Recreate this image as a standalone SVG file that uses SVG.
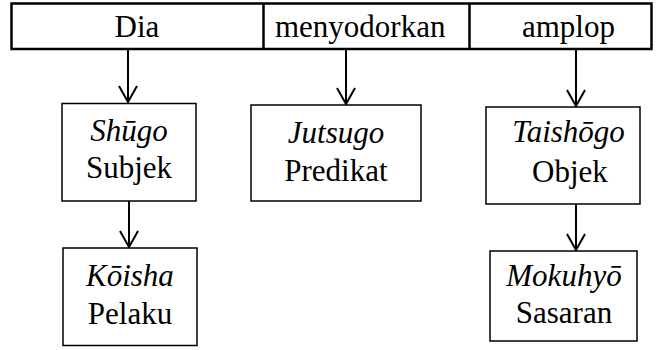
<svg xmlns="http://www.w3.org/2000/svg" width="660" height="350" viewBox="0 0 660 350">
  <rect width="660" height="350" fill="#fff"/>
  <g fill="#fff" stroke="#000" stroke-width="2.5">
    <rect x="11.5" y="3.5" width="640" height="45.5"/>
    <line x1="263.5" y1="3.5" x2="263.5" y2="49"/>
    <line x1="469.5" y1="3.5" x2="469.5" y2="49"/>
  </g>
  <text x="114.6" y="37" font-family="Liberation Serif" font-size="31">Dia</text>
  <text x="275" y="37" font-family="Liberation Serif" font-size="31">menyodorkan</text>
  <text x="522" y="37" font-family="Liberation Serif" font-size="31">amplop</text>
  <g fill="none" stroke="#000" stroke-width="2">
    <line x1="128" y1="49" x2="128" y2="102"/>
    <polyline points="119,86 128,102 137,86"/>
    <line x1="346" y1="49" x2="346" y2="104"/>
    <polyline points="337,88 346,104 355,88"/>
    <line x1="576" y1="49" x2="576" y2="106"/>
    <polyline points="567,90 576,106 585,90"/>
    <line x1="129" y1="201" x2="129" y2="247"/>
    <polyline points="120,231 129,247 138,231"/>
    <line x1="576" y1="204" x2="576" y2="250"/>
    <polyline points="567,234 576,250 585,234"/>
  </g>
  <rect x="62" y="103.5" width="134" height="97.5" fill="#fff" stroke="#000" stroke-width="1.5"/>
  <text x="90.3" y="141" font-family="Liberation Serif" font-size="31" font-style="italic">Shūgo</text>
  <text x="86" y="178" font-family="Liberation Serif" font-size="31">Subjek</text>
  <rect x="251" y="105" width="170" height="96" fill="#fff" stroke="#000" stroke-width="1.5"/>
  <text x="287.8" y="143" font-family="Liberation Serif" font-size="31" font-style="italic">Jutsugo</text>
  <text x="284.3" y="181" font-family="Liberation Serif" font-size="31">Predikat</text>
  <rect x="486" y="107" width="154" height="97" fill="#fff" stroke="#000" stroke-width="1.5"/>
  <text x="512.3" y="142" font-family="Liberation Serif" font-size="31" font-style="italic">Taishōgo</text>
  <text x="532" y="182" font-family="Liberation Serif" font-size="31">Objek</text>
  <rect x="63" y="248" width="134" height="97.5" fill="#fff" stroke="#000" stroke-width="1.5"/>
  <text x="86" y="286" font-family="Liberation Serif" font-size="31" font-style="italic">Kōisha</text>
  <text x="87.8" y="324" font-family="Liberation Serif" font-size="31">Pelaku</text>
  <rect x="490" y="251" width="147" height="90" fill="#fff" stroke="#000" stroke-width="1.5"/>
  <text x="506.3" y="286" font-family="Liberation Serif" font-size="31" font-style="italic">Mokuhyō</text>
  <text x="515.8" y="323" font-family="Liberation Serif" font-size="31">Sasaran</text>
</svg>
